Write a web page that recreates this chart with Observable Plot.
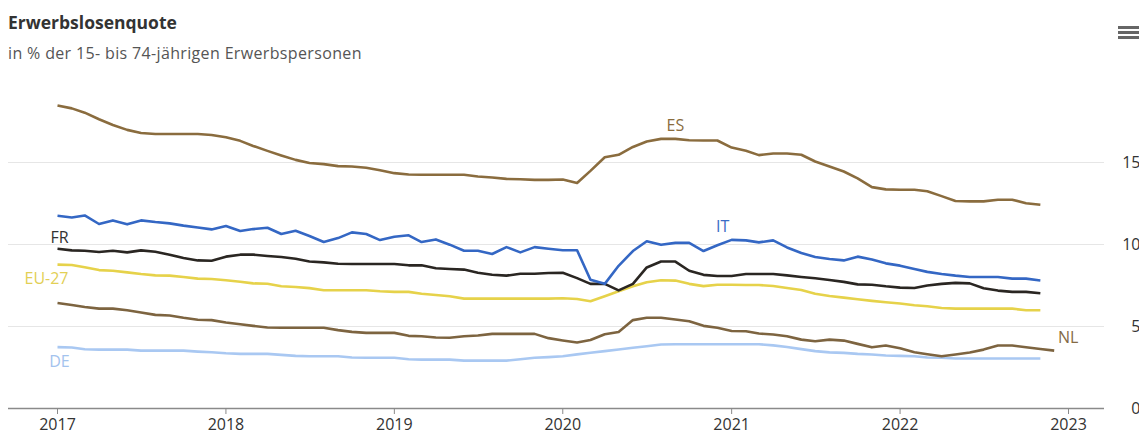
<!DOCTYPE html>
<html><head><meta charset="utf-8">
<script src="https://cdn.jsdelivr.net/npm/d3@7"></script>
<script src="https://cdn.jsdelivr.net/npm/@observablehq/plot@0.6"></script>
<style>
body{margin:0;background:#fff;font-family:"Open Sans",sans-serif;}
#wrap{position:relative;width:1139px;height:435px;overflow:hidden;}
#title{position:absolute;left:8px;top:10px;font-size:17.5px;font-weight:700;color:#333;white-space:nowrap;}
#subtitle{position:absolute;left:8px;top:42px;font-size:16px;letter-spacing:0.35px;color:#555;white-space:nowrap;}
#menu{position:absolute;left:1118px;top:26px;width:24px;}
#menu div{height:2.5px;background:#666;margin-bottom:2.5px;}
#chart{position:absolute;left:0;top:70px;}
</style></head>
<body>
<div id="wrap">
  <div id="title">Erwerbslosenquote</div>
  <div id="subtitle">in % der 15- bis 74-jährigen Erwerbspersonen</div>
  <div id="menu"><div></div><div></div><div></div></div>
  <div id="chart"></div>
</div>
<script>
// Monthly observations, Jan 2017 onward
const startMonth = new Date(Date.UTC(2017, 0, 1));
const endMonth = new Date(Date.UTC(2023, 0, 1));
const months = d3.utcMonth.range(startMonth, endMonth);

const xTicks = [2017, 2018, 2019, 2020, 2021, 2022, 2023];
const yTicks = [0, 5, 10, 15];

const ES = [18.47,18.3,18.04,17.64,17.29,16.99,16.8,16.74,16.74,16.74,
  16.74,16.68,16.54,16.32,16.01,15.71,15.43,15.16,14.97,14.9,
  14.78,14.76,14.68,14.53,14.35,14.27,14.25,14.25,14.25,14.25,
  14.15,14.09,14.0,13.98,13.94,13.94,13.96,13.75,14.49,15.32,
  15.47,15.95,16.28,16.44,16.44,16.36,16.34,16.34,15.91,15.71,
  15.45,15.55,15.55,15.47,15.06,14.76,14.45,14.03,13.5,13.36,
  13.34,13.34,13.25,12.95,12.65,12.63,12.63,12.73,12.73,12.52,12.42];
const IT = [11.75,11.65,11.77,11.25,11.47,11.23,11.47,11.37,11.29,11.15,
  11.04,10.92,11.13,10.82,10.94,11.02,10.64,10.84,10.52,10.15,
  10.39,10.74,10.64,10.27,10.47,10.56,10.15,10.31,9.99,9.62,
  9.62,9.42,9.84,9.52,9.84,9.74,9.65,9.65,7.85,7.6,
  8.7,9.6,10.2,9.98,10.1,10.1,9.6,9.95,10.28,10.25,
  10.13,10.25,9.82,9.48,9.24,9.12,9.03,9.26,9.08,8.85,
  8.71,8.51,8.33,8.2,8.1,8.02,8.02,8.02,7.92,7.92,7.81];
const FR = [9.74,9.64,9.62,9.54,9.62,9.52,9.64,9.56,9.38,9.18,
  9.03,9.01,9.26,9.38,9.38,9.3,9.24,9.13,8.96,8.91,
  8.83,8.81,8.81,8.81,8.81,8.73,8.73,8.55,8.51,8.47,
  8.28,8.16,8.1,8.22,8.22,8.26,8.28,7.95,7.6,7.6,
  7.2,7.6,8.6,8.96,8.96,8.4,8.15,8.08,8.08,8.2,
  8.2,8.2,8.12,8.02,7.94,7.84,7.72,7.57,7.55,7.45,
  7.37,7.35,7.5,7.6,7.66,7.63,7.33,7.19,7.11,7.11,7.03];
const EU27 = [8.77,8.75,8.61,8.44,8.4,8.3,8.2,8.12,8.1,8.02,
  7.92,7.9,7.82,7.73,7.63,7.61,7.45,7.41,7.34,7.21,
  7.21,7.21,7.21,7.15,7.11,7.11,7.0,6.92,6.84,6.7,
  6.7,6.7,6.7,6.7,6.7,6.7,6.72,6.68,6.54,6.85,
  7.15,7.45,7.7,7.82,7.8,7.6,7.46,7.55,7.55,7.53,
  7.53,7.47,7.35,7.23,7.0,6.86,6.76,6.66,6.56,6.48,
  6.4,6.3,6.23,6.13,6.09,6.09,6.09,6.09,6.09,5.99,5.99];
const NL = [6.43,6.31,6.19,6.09,6.09,5.99,5.85,5.71,5.67,5.53,
  5.41,5.39,5.24,5.14,5.04,4.94,4.92,4.92,4.92,4.92,
  4.78,4.67,4.61,4.61,4.61,4.43,4.41,4.33,4.31,4.41,
  4.45,4.55,4.55,4.55,4.55,4.29,4.15,4.02,4.18,4.53,
  4.67,5.39,5.53,5.53,5.43,5.32,5.04,4.92,4.73,4.71,
  4.57,4.51,4.41,4.2,4.1,4.2,4.14,3.94,3.73,3.84,
  3.67,3.43,3.31,3.19,3.29,3.41,3.59,3.84,3.84,3.73,3.63,3.53];
const DE = [3.74,3.72,3.61,3.59,3.59,3.59,3.53,3.53,3.53,3.53,
  3.47,3.43,3.37,3.33,3.33,3.33,3.27,3.21,3.19,3.19,
  3.19,3.11,3.09,3.09,3.09,3.0,2.98,2.98,2.98,2.92,
  2.92,2.92,2.92,3.0,3.09,3.13,3.19,3.3,3.4,3.5,
  3.6,3.7,3.8,3.9,3.92,3.92,3.92,3.92,3.92,3.92,
  3.92,3.85,3.75,3.62,3.5,3.42,3.39,3.33,3.29,3.23,
  3.21,3.19,3.11,3.09,3.05,3.05,3.05,3.05,3.05,3.05,3.05];

const seriesNames = ["DE", "NL", "EU-27", "FR", "IT", "ES"];
const seriesValues = [DE, NL, EU27, FR, IT, ES];
const colors = {"DE": "#a9c8f2", "NL": "#7d6440", "EU-27": "#e6d24a", "FR": "#2a2622", "IT": "#3467c4", "ES": "#8a6c3e"};
const labelColors = {"DE": "#a3c3ee", "NL": "#846a45", "EU-27": "#e2cf55", "FR": "#333333", "IT": "#3a6cc6", "ES": "#8a6c3e"};

const rows = seriesNames.map((name, s) =>
  seriesValues[s].map((v, i) => ({name, date: months[i], value: v}))
);
const pt = (name, i) => rows[seriesNames.indexOf(name)][i];
const lastIndex = name => rows[seriesNames.indexOf(name)].length - 1;

const labelFont = {fontSize: 16, fontFamily: "Open Sans"};
const label = (name, i, dx, dy) => Plot.text([pt(name, i)], {
  x: "date", y: "value", text: d => d.name, dx, dy,
  fill: labelColors[name], ...labelFont
});

const chart = Plot.plot({
  width: 1139, height: 365,
  marginLeft: 8, marginRight: 35, marginTop: 10, marginBottom: 27,
  style: {fontFamily: "Open Sans", fontSize: "16px", color: "#333", background: "#fff"},
  x: {type: "utc", domain: [startMonth, endMonth], range: [57, 1068], label: null},
  y: {domain: [0, 20], label: null},
  marks: [
    Plot.ruleY(yTicks.filter(d => d > 0), {stroke: "#e6e6e6", strokeWidth: 1}),
    ...rows.map(r => Plot.line(r, {x: "date", y: "value", stroke: colors[r[0].name], strokeWidth: 2.6, strokeLinejoin: "round", strokeLinecap: "butt"})),
    Plot.ruleY([0], {stroke: "#8a8a8a", strokeWidth: 1.5}),
    Plot.axisX({ticks: xTicks.map(y => new Date(Date.UTC(y, 0, 1))), tickFormat: d3.utcFormat("%Y"), tickSize: 6, tickPadding: 4, stroke: "#8a8a8a", fill: "#333", fontSize: 16, label: null}),
    Plot.axisY({anchor: "right", ticks: yTicks, tickSize: 0, tickPadding: 0, textAnchor: "end", dx: 36, fill: "#333", fontSize: 16, label: null}),
    label("ES", 44, 0, -13),
    label("IT", 48, -9, -13),
    label("FR", 0, 2, -11),
    label("EU-27", 0, -11, 14),
    label("DE", 0, 2, 15),
    label("NL", lastIndex("NL"), 14, -13)
  ]
});
document.getElementById("chart").appendChild(chart);
</script>
</body></html>
